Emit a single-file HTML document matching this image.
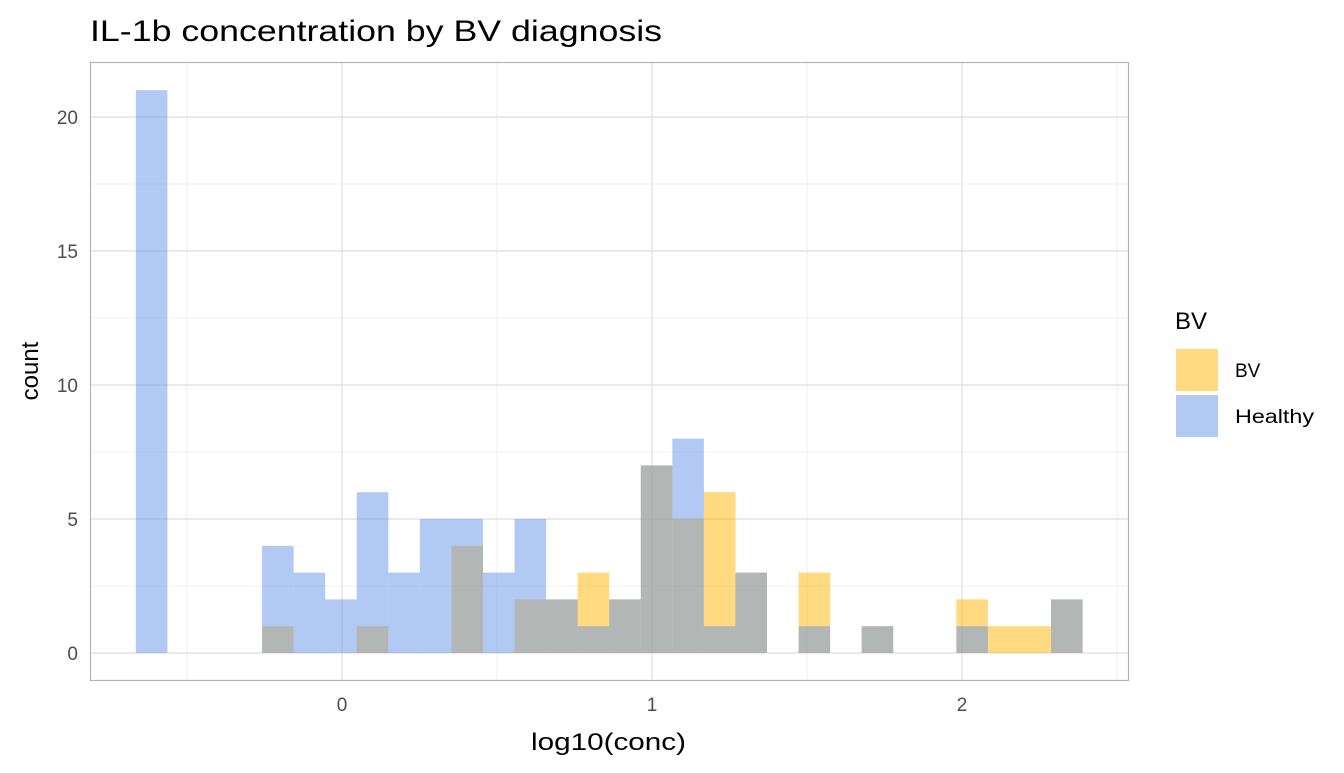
<!DOCTYPE html>
<html><head><meta charset="utf-8"><style>
body{margin:0;background:#fff;font-family:"Liberation Sans",sans-serif}
</style></head><body>
<svg width="1344" height="768" xmlns="http://www.w3.org/2000/svg">
<g id="grid"></g>
<g id="bars"></g>
<rect x="90.5" y="62.5" width="1038" height="618" fill="none" stroke="#b3b3b3" stroke-width="1.2"/>
<g id="axes" font-size="19" fill="#4d4d4d"></g>
<text x="90" y="41" font-size="30" textLength="572" lengthAdjust="spacingAndGlyphs" fill="#000">IL-1b concentration by BV diagnosis</text>
<text x="531" y="750" font-size="24" textLength="155" lengthAdjust="spacingAndGlyphs" fill="#000">log10(conc)</text>
<text transform="translate(38,371) rotate(-90)" font-size="24" text-anchor="middle" fill="#000">count</text>
<g>
<text x="1175" y="329" font-size="24" fill="#000">BV</text>
<rect x="1176" y="349" width="42" height="42" fill="#ffb501" fill-opacity="0.5"/>
<text x="1235" y="377" font-size="19" fill="#000">BV</text>
<rect x="1176" y="395" width="42" height="42" fill="#6693e9" fill-opacity="0.5"/>
<text x="1235" y="423" font-size="19" textLength="79" lengthAdjust="spacingAndGlyphs" fill="#000">Healthy</text>
</g>
</svg>
<script>
const binStart = -0.665;
const binWidth = 0.1018;
const bvCounts = [0,0,0,0,1,0,0,1,0,0,4,0,2,2,3,2,7,5,6,3,0,3,0,1,0,0,2,1,1,2];
const healthyCounts = [21,0,0,0,4,3,2,6,3,5,5,3,5,2,1,2,7,8,1,3,0,1,0,1,0,0,1,0,0,2];
const xTicks = [0,1,2];
const yTicks = [0,5,10,15,20];
const NS="http://www.w3.org/2000/svg";
const X=v=>342+310*v, Y=v=>653-26.8*v;
const grid=document.getElementById('grid'), bars=document.getElementById('bars'), axes=document.getElementById('axes');
function mk(tag,attrs,parent){const e=document.createElementNS(NS,tag);for(const k in attrs)e.setAttribute(k,attrs[k]);parent.appendChild(e);return e;}
for(let v=-0.5;v<=2.5;v+=1){const l=mk('line',{x1:X(v),x2:X(v),y1:62,y2:680,stroke:'#ebebeb','stroke-width':0.8},grid);

}
for(let v=2.5;v<=17.5;v+=5){const l=mk('line',{x1:90,x2:1128,y1:Y(v),y2:Y(v),stroke:'#ebebeb','stroke-width':0.8},grid);

}
xTicks.forEach(v=>{const l=mk('line',{x1:X(v),x2:X(v),y1:62,y2:680,stroke:'#dedede','stroke-width':1.2},grid);


const t=mk('text',{x:X(v),y:711,'text-anchor':'middle'},axes);t.textContent=v;

});
yTicks.forEach(v=>{const l=mk('line',{x1:90,x2:1128,y1:Y(v),y2:Y(v),stroke:'#dedede','stroke-width':1.2},grid);


const t=mk('text',{x:78,y:Y(v)+7,'text-anchor':'end'},axes);t.textContent=v;

});
function drawSeries(arr,color,name){arr.forEach((c,i)=>{if(!c)return;const x0=X(binStart+i*binWidth),x1=X(binStart+(i+1)*binWidth);
const r=mk('rect',{x:x0,y:Y(c),width:x1-x0,height:Y(0)-Y(c),fill:color,'fill-opacity':0.5},bars);

});}
drawSeries(bvCounts,'#ffb501','bar-bv');
drawSeries(healthyCounts,'#6693e9','bar-healthy');
</script>
</body></html>
